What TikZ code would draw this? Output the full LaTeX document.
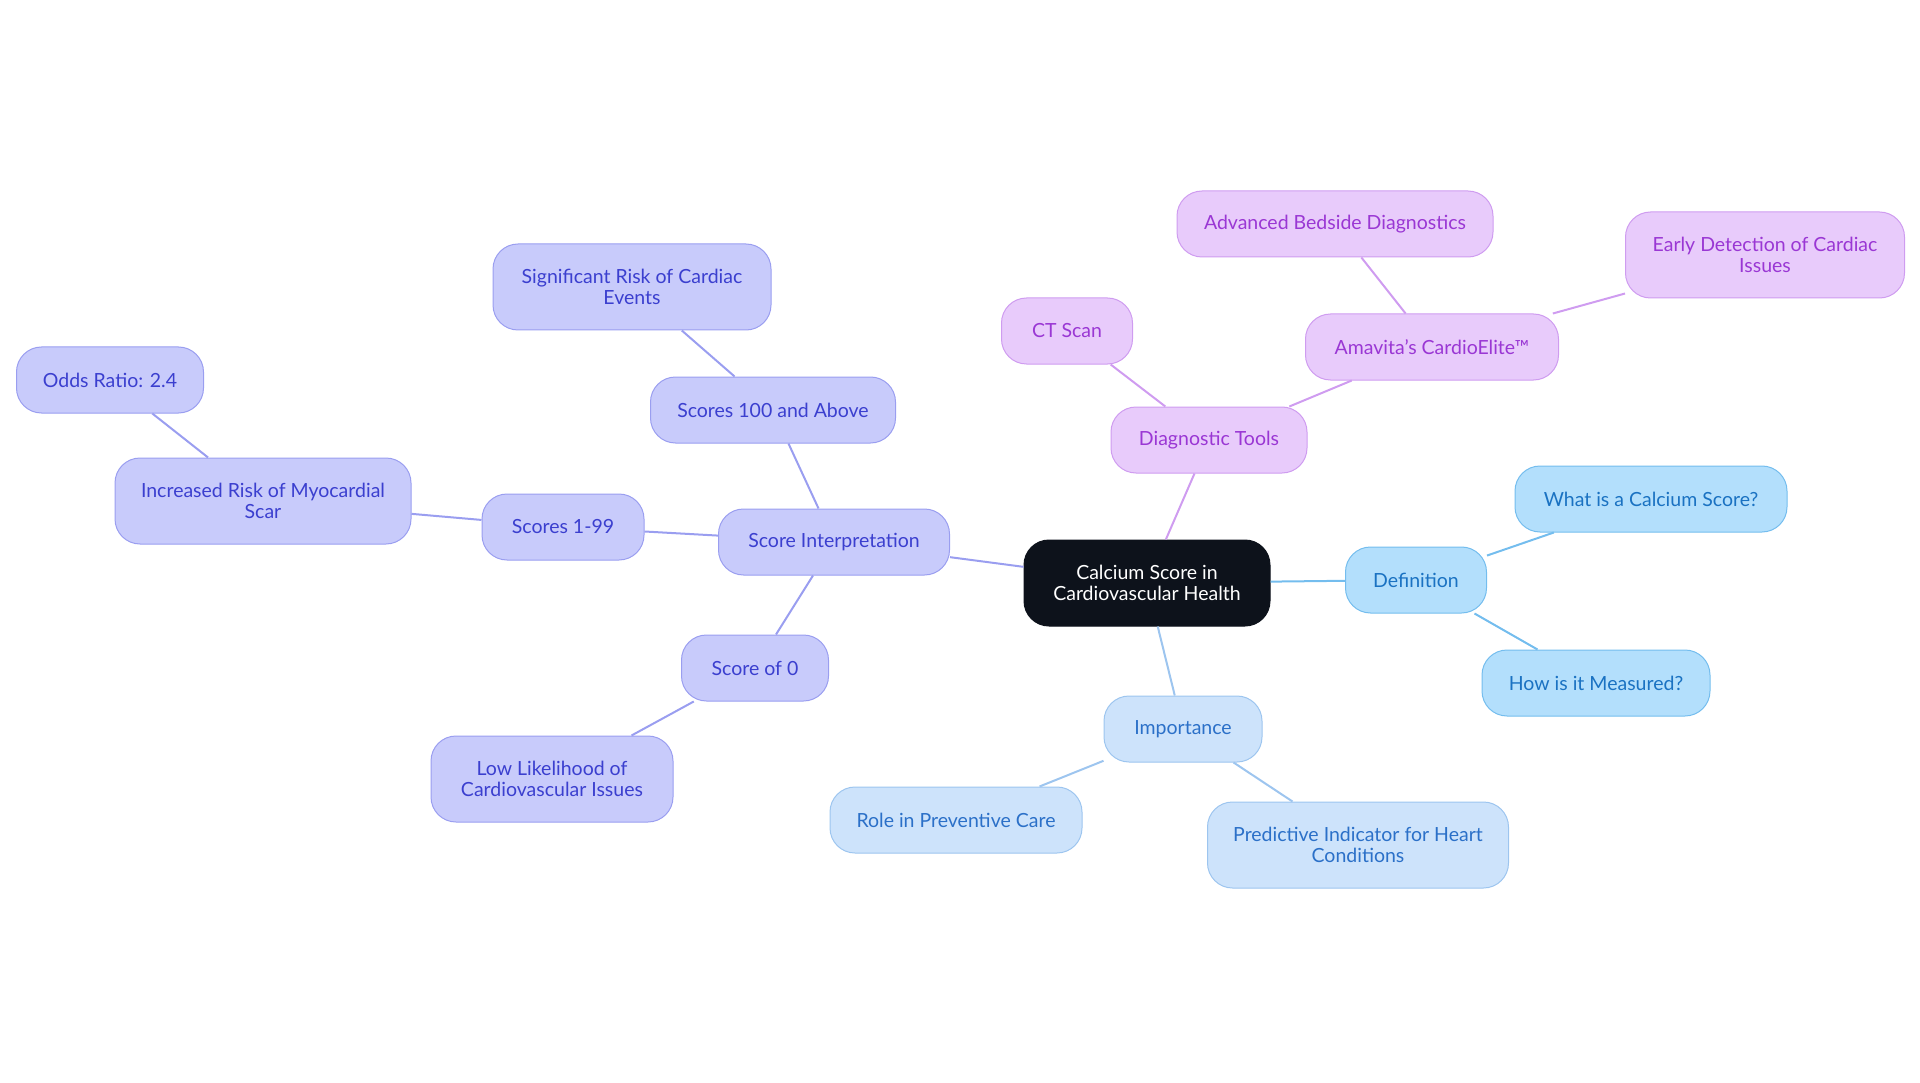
\documentclass[tikz,border=0pt]{standalone}
\usepackage{fontspec}
\setmainfont{Lato}
\usetikzlibrary{positioning}

\definecolor{rootfill}{HTML}{0D121B}
\definecolor{indfill}{HTML}{C8CBFB}
\definecolor{inddraw}{HTML}{9A9EF0}
\definecolor{indtext}{HTML}{3B3FCF}
\definecolor{viofill}{HTML}{E8CBFB}
\definecolor{viodraw}{HTML}{CF9CF0}
\definecolor{viotext}{HTML}{9A37D4}
\definecolor{skyfill}{HTML}{B3DFFC}
\definecolor{skydraw}{HTML}{74BDEE}
\definecolor{skytext}{HTML}{1A72C2}
\definecolor{palefill}{HTML}{CDE3FB}
\definecolor{paledraw}{HTML}{9DC5EF}
\definecolor{paletext}{HTML}{2B70C8}

\tikzset{
  box/.style={rounded corners=25pt, line width=1pt, align=center, inner sep=0pt,
    minimum height=66pt, font=\fontsize{19.5}{21}\selectfont},
  root/.style={box, fill=rootfill, draw=rootfill, text=white, minimum height=86pt},
  ind/.style={box, fill=indfill, draw=inddraw, text=indtext},
  vio/.style={box, fill=viofill, draw=viodraw, text=viotext},
  sky/.style={box, fill=skyfill, draw=skydraw, text=skytext},
  pale/.style={box, fill=palefill, draw=paledraw, text=paletext},
  tall/.style={minimum height=86pt},
  indline/.style={draw=inddraw, line width=2pt},
  violine/.style={draw=viodraw, line width=2pt},
  skyline/.style={draw=skydraw, line width=2pt},
  paleline/.style={draw=paledraw, line width=2pt}
}

\begin{document}
\begin{tikzpicture}[x=1pt, y=-1pt]
  \useasboundingbox (0,0) rectangle (1920,1083);

  % centre
  \node[root, minimum width=246pt] (calc) at (1147,583) {Calcium Score in\\Cardiovascular Health};

  % score interpretation branch
  \node[ind, minimum width=231pt] (interp) at (834,542) {Score Interpretation};
  \node[ind, minimum width=245pt] (high) at (773,410) {Scores 100 and Above};
  \node[ind, tall, minimum width=278pt] (sigrisk) at (632,287) {Significant Risk of Cardiac\\Events};
  \node[ind, minimum width=162pt] (low) at (563,527) {Scores 1-99};
  \node[ind, tall, minimum width=296pt] (scar) at (263,501) {Increased Risk of Myocardial\\Scar};
  \node[ind, minimum width=187pt] (odds) at (110,380) {Odds Ratio: 2.4};
  \node[ind, minimum width=147pt] (zero) at (755,668) {Score of 0};
  \node[ind, tall, minimum width=242pt] (unlikely) at (552,779) {Low Likelihood of\\Cardiovascular Issues};

  % diagnostic tools branch
  \node[vio, minimum width=196pt] (diag) at (1209,440) {Diagnostic Tools};
  \node[vio, minimum width=131pt] (ct) at (1067,331) {CT Scan};
  \node[vio, minimum width=253pt] (elite) at (1432,347) {Amavita's CardioElite™};
  \node[vio, minimum width=316pt] (bedside) at (1335,224) {Advanced Bedside Diagnostics};
  \node[vio, tall, minimum width=279pt] (early) at (1765,255) {Early Detection of Cardiac\\Issues};

  % definition branch
  \node[sky, minimum width=141pt] (defn) at (1416,580) {Definition};
  \node[sky, minimum width=272pt] (what) at (1651,499) {What is a Calcium Score?};
  \node[sky, minimum width=228pt] (how) at (1596,683) {How is it Measured?};

  % importance branch
  \node[pale, minimum width=158pt] (imp) at (1183,729) {Importance};
  \node[pale, minimum width=252pt] (prev) at (956,820) {Role in Preventive Care};
  \node[pale, tall, minimum width=301pt] (pred) at (1358,845) {Predictive Indicator for Heart\\Conditions};

  % connectors
  \draw[indline] (calc) -- (interp);
  \draw[indline] (interp) -- (high);
  \draw[indline] (high) -- (sigrisk);
  \draw[indline] (interp) -- (low);
  \draw[indline] (low) -- (scar);
  \draw[indline] (scar) -- (odds);
  \draw[indline] (interp) -- (zero);
  \draw[indline] (zero) -- (unlikely);
  \draw[violine] (calc) -- (diag);
  \draw[violine] (diag) -- (ct);
  \draw[violine] (diag) -- (elite);
  \draw[violine] (elite) -- (bedside);
  \draw[violine] (elite) -- (early);
  \draw[skyline] (calc) -- (defn);
  \draw[skyline] (defn) -- (what);
  \draw[skyline] (defn) -- (how);
  \draw[paleline] (calc) -- (imp);
  \draw[paleline] (imp) -- (prev);
  \draw[paleline] (imp) -- (pred);
\end{tikzpicture}
\end{document}
